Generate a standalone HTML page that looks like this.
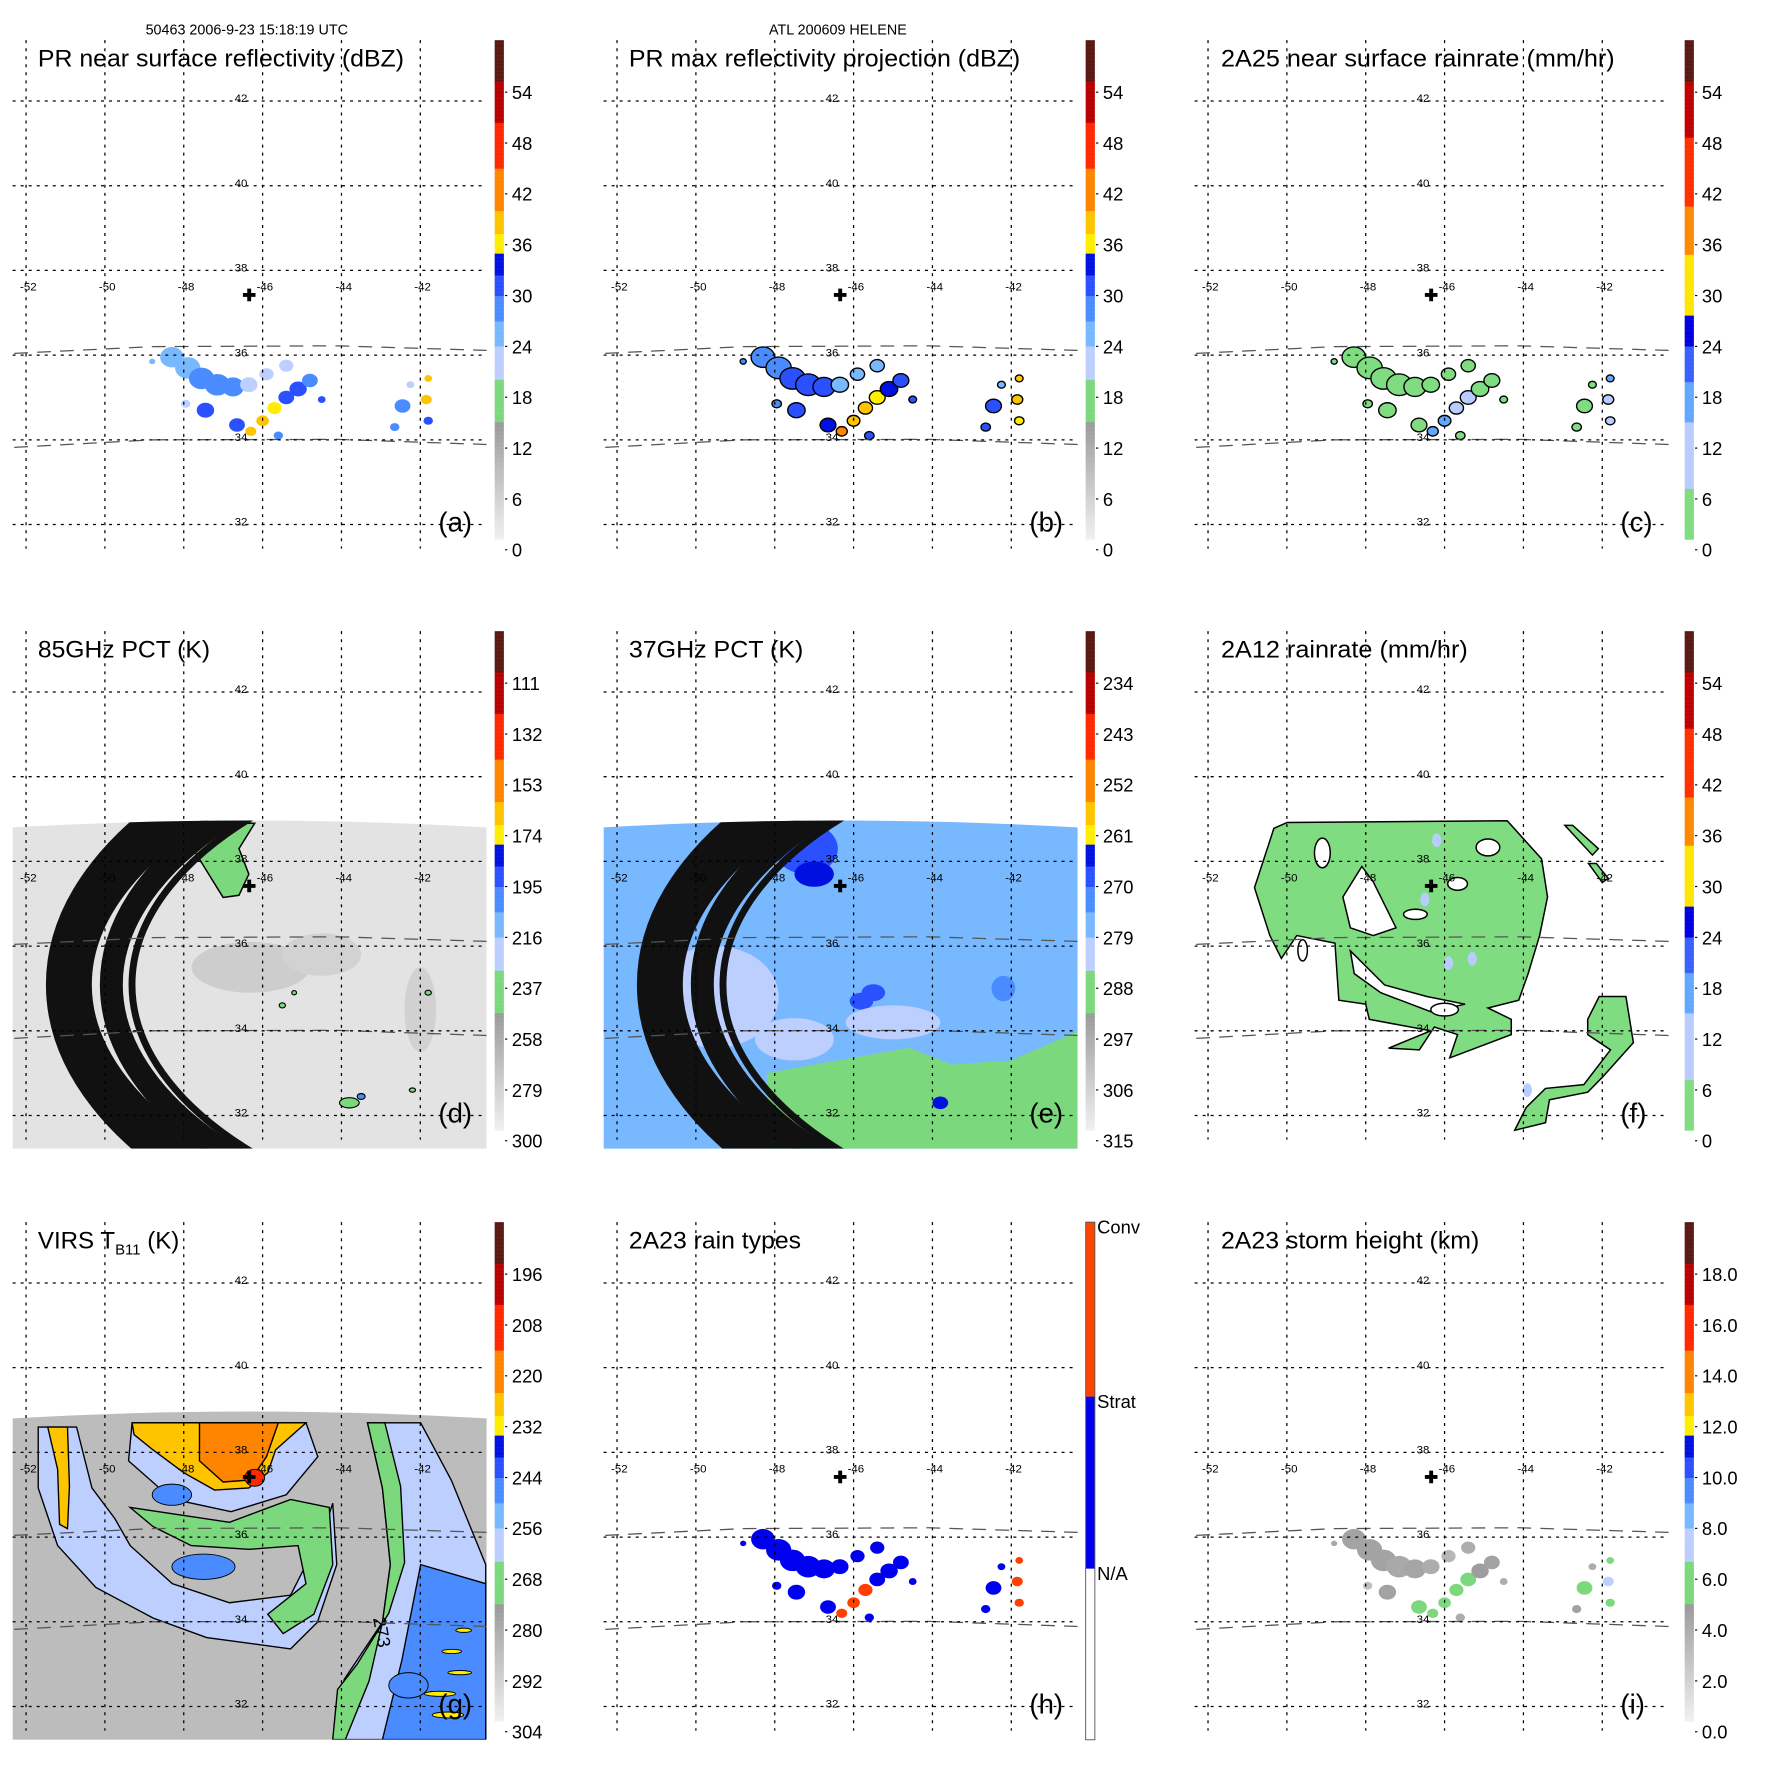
<!DOCTYPE html>
<html><head><meta charset="utf-8"><title>TRMM overpass HELENE</title>
<style>html,body{margin:0;padding:0;background:#fff}svg{display:block}text{font-family:"Liberation Sans",Arial,sans-serif}</style></head>
<body>
<svg id="fig" xmlns="http://www.w3.org/2000/svg" width="1771" height="1771" viewBox="0 0 1543 1543">
<rect x="0" y="0" width="1543" height="1543" fill="#fff"/>
<text x="215" y="30" font-size="12.5" text-anchor="middle">50463 2006-9-23 15:18:19 UTC</text>
<text x="730" y="30" font-size="12.5" text-anchor="middle">ATL 200609 HELENE</text>
</svg>
<script>
// ---------- data (lon/lat in degrees, field values in panel units) ----------
const lonTicks=[-52,-50,-48,-46,-44,-42];
const latTicks=[42,40,38,36,34,32];
const centerLon=-46.34, centerLat=37.42;
// PR cells
const prLon=[-48.3,-47.9,-47.55,-47.15,-46.75,-46.35,-45.9,-45.4,-48.8,-47.45,-47.95,-46.65,-46.3,-46.0,-45.7,-45.4,-45.1,-44.8,-45.6,-42.45,-42.65,-42.25,-41.8,-41.85,-41.8,-44.5];
const prLat=[35.95,35.7,35.45,35.3,35.25,35.3,35.55,35.75,35.85,34.7,34.85,34.35,34.2,34.45,34.75,35.0,35.2,35.4,34.1,34.8,34.3,35.3,35.45,34.95,34.45,34.95];
const prRad=[0.30,0.32,0.32,0.32,0.28,0.22,0.18,0.18,0.08,0.22,0.12,0.2,0.14,0.16,0.18,0.2,0.22,0.2,0.12,0.2,0.12,0.1,0.1,0.14,0.12,0.1];
const nearRefl=[24,26,27,27,28,22,22,20,26,30,22,30,40,38,37,32,30,28,28,27,28,22,38,38,32,30];
const maxRefl=[28,29,30,30,31,26,26,26,29,32,28,33,42,40,38,36,34,32,30,32,31,26,40,40,36,32];
const rain2A25=[3,4,4,4,5,2,2,2,3,6,3,6,18,15,12,8,6,5,4,5,5,2,15,14,8,5];
const rainType=[1,1,1,1,1,1,1,1,1,1,1,1,2,2,2,1,1,1,1,1,1,1,2,2,2,1];
const stormHeight=[4.5,4.5,4.5,4.2,4.4,4.0,3.5,4.0,4.2,4.5,3.0,6.0,6.5,6.2,6.0,5.5,4.8,4.5,4.0,6.0,4.5,4.0,6.5,7.5,6.0,4.0];
// PR swath edges
const swathTopLon=[-52.3,-48.8,-44.1,-40.3], swathTopLat=[36.04,36.2,36.22,36.11];
const swathBotLon=[-52.3,-48.8,-44.1,-40.3], swathBotLat=[33.82,34.0,34.01,33.89];
// 85GHz PCT
const pct85Background=288;
const pct85Lon=[-46.3,-44.5,-42.0,-45.5,-45.2,-43.8,-43.5,-42.2,-41.8];
const pct85Lat=[35.5,35.8,34.5,34.6,34.9,32.3,32.45,32.6,34.9];
const pct85Rx=[1.5,1.0,0.4,0.08,0.06,0.25,0.1,0.08,0.08];
const pct85Ry=[0.6,0.5,1.0,0.06,0.05,0.12,0.07,0.05,0.06];
const pct85Val=[276,279,278,240,240,232,205,240,240];
const pct85Tongue=[[-47.5,38.9],[-46.2,38.9],[-46.6,38.3],[-46.35,37.7],[-46.6,37.2],[-47.0,37.15],[-47.3,37.6],[-47.7,38.2]];
const pct85TongueVal=240;
// 37GHz PCT
const pct37Background=279;
const pct37Lon=[-49.5,-47.5,-44.5,-42.5,-46.5,-47.2,-47.0,-45.8,-45.5,-42.2,-43.8,-45.0];
const pct37Lat=[34.8,33.8,37.5,38.0,35.7,38.3,37.7,34.7,34.9,35.0,32.3,34.2];
const pct37Rx=[1.6,1.0,1.2,1.5,1.5,0.8,0.5,0.3,0.3,0.3,0.2,1.2];
const pct37Ry=[1.2,0.5,0.8,0.5,0.35,0.6,0.3,0.2,0.2,0.3,0.15,0.4];
const pct37Val=[284,284,275,275,275,267,266,268,270,273,266,284];
const pct37Green=[[-48.2,31.2],[-48.2,33.0],[-47,33.2],[-44.6,33.6],[-43.5,33.2],[-42,33.3],[-40.3,34.0],[-40.3,31.2]];
const pct37GreenVal=289;
// 2A12 rain
const rain2A12Main=[[-49.99,38.92],[-44.41,38.96],[-43.54,38.06],[-43.39,37.16],[-43.59,36.25],[-43.88,35.35],[-44.12,34.72],[-44.90,34.54],[-44.31,34.27],[-44.31,33.91],[-45.87,33.36],[-45.67,33.91],[-46.26,34.09],[-46.64,33.55],[-47.42,33.59],[-46.35,34.0],[-47.91,34.27],[-48.0,34.63],[-48.68,34.72],[-48.78,36.07],[-49.75,36.25],[-50.14,35.71],[-50.43,36.25],[-50.82,37.38],[-50.33,38.78]];
const rain2A12Hole1=[[-48.10,37.88],[-47.81,37.52],[-47.23,36.43],[-47.81,36.25],[-48.39,36.43],[-48.58,37.16]];
const rain2A12Hole2=[[-48.39,35.89],[-47.52,35.08],[-46.45,34.81],[-45.48,34.63],[-46.35,34.45],[-47.62,34.9],[-48.29,35.35]];
const rain2A12Strip=[[-42.08,34.81],[-41.40,34.81],[-41.21,33.72],[-41.99,32.91],[-42.37,32.55],[-43.34,32.37],[-43.44,31.83],[-44.22,31.65],[-43.93,32.19],[-43.44,32.64],[-42.47,32.73],[-41.79,33.55],[-42.37,33.91],[-42.37,34.27]];
const rain2A12NE=[[-42.95,38.85],[-42.75,38.85],[-42.1,38.3],[-42.25,38.15]];
const rain2A12NE2=[[-42.35,37.95],[-42.15,37.95],[-41.85,37.6],[-42.0,37.5]];
const rain2A12Val=3;
const holeLon=[-49.1,-44.9,-45.67,-46.74,-49.6,-46.0];
const holeLat=[38.2,38.33,37.47,36.75,35.9,34.5];
const holeRx=[0.2,0.3,0.25,0.3,0.12,0.35];
const holeRy=[0.35,0.2,0.15,0.12,0.25,0.15];
const rain2A12BlueLon=[-46.2,-46.5,-45.3,-43.9,-45.9];
const rain2A12BlueLat=[38.5,37.1,35.7,32.6,35.6];
const rain2A12BlueVal=[9,10,9,10,9];
// VIRS TB11
const virsBackground=285;
const virsPolys=[
 {v:258,p:[[-51.69,38.6],[-50.72,38.6],[-50.33,37.16],[-49.75,36.44],[-49.36,35.80],[-48.29,34.90],[-46.84,34.45],[-45.29,34.63],[-44.41,36.25],[-44.22,36.8],[-44.12,35.35],[-44.61,33.99],[-45.29,33.36],[-47.42,33.63],[-48.78,34.09],[-50.23,34.81],[-51.20,35.80],[-51.69,37.16]]},
 {v:266,p:[[-49.36,36.7],[-46.84,36.35],[-45.29,36.89],[-44.31,36.7],[-44.22,35.35],[-44.7,34.18],[-45.48,33.72],[-45.87,34.18],[-44.9,34.9],[-45.1,35.8],[-46.35,35.71],[-47.81,35.8],[-48.78,36.25]]},
 {v:258,p:[[-43.34,38.7],[-41.99,38.7],[-41.21,37.34],[-40.34,35.35],[-40.34,31.22],[-44.22,31.22],[-43.93,32.64],[-42.96,33.99],[-42.76,35.35],[-42.96,37.16]]},
 {v:265,p:[[-43.34,38.7],[-42.9,38.7],[-42.5,37.2],[-42.4,35.4],[-42.8,34.2],[-43.6,33.0],[-44.1,32.4],[-44.22,31.22],[-43.9,31.22],[-43.3,32.6],[-42.96,33.99],[-42.76,35.35],[-42.96,37.16]]},
 {v:245,p:[[-41.99,35.35],[-40.34,34.9],[-40.34,31.22],[-42.96,31.22],[-42.47,33.09]]},
 {v:262,p:[[-49.31,38.7],[-44.9,38.7],[-44.6,37.9],[-45.4,37.0],[-46.8,36.6],[-48.3,36.9],[-49.4,37.8]]},
 {v:226,p:[[-49.31,38.7],[-44.9,38.7],[-45.67,38.06],[-45.87,37.52],[-46.35,37.16],[-47.22,37.11],[-48.0,37.52],[-48.78,38.06],[-49.26,38.42]]},
 {v:219,p:[[-47.6,38.7],[-45.6,38.7],[-45.9,37.9],[-46.3,37.35],[-47.0,37.3],[-47.6,37.8]]},
 {v:226,p:[[-51.45,38.6],[-50.95,38.6],[-50.9,37.2],[-50.95,36.2],[-51.15,36.3],[-51.2,37.6]]}
];
const virsLon=[-47.5,-46.2,-48.3,-41.2,-41.0,-41.5,-41.3,-40.9,-42.3];
const virsLat=[35.3,37.4,37.0,33.3,32.8,32.3,31.8,33.8,32.5];
const virsRx=[0.8,0.25,0.5,0.25,0.3,0.4,0.4,0.2,0.5];
const virsRy=[0.3,0.2,0.25,0.05,0.05,0.06,0.07,0.05,0.3];
const virsVal=[248,208,246,230,230,230,230,230,246];

// ---------- geometry ----------
const NS='http://www.w3.org/2000/svg';
const svg=document.getElementById('fig');
const OFF=514.9;
const X0=22.7, DX=34.35, Y0=88, DY=36.9;
function xs(lon){return X0+(lon+52)*DX;}
function ys(lat){return Y0+(42-lat)*DY;}
function mk(tag,attrs,parent){const e=document.createElementNS(NS,tag);for(const k in attrs)e.setAttribute(k,attrs[k]);parent.appendChild(e);return e;}
function polyPts(p){return p.map(q=>xs(q[0]).toFixed(1)+','+ys(q[1]).toFixed(1)).join(' ');}

const SEG_A=[[0.333,'#7cd87c'],[0.4,'#bccfff'],[0.45,'#78b8ff'],[0.5,'#4a8cff'],[0.54,'#2a50ff'],[0.583,'#0010e0'],[0.62,'#ffee00'],[0.667,'#ffc400'],[0.75,'#ff8400'],[0.84,'#ff2800'],[0.92,'#b80000'],[1.01,'#5a1812']];
const SEG_B=[[0.12,'#80dc80'],[0.25,'#b8ccff'],[0.33,'#60a8ff'],[0.40,'#3860ff'],[0.46,'#0000e0'],[0.58,'#ffe600'],[0.675,'#ff8800'],[0.81,'#ff3000'],[0.92,'#c00000'],[1.01,'#5a1812']];
function colA(t){
  if(t<0.25){const g=Math.round(248-(248-154)*Math.max(0,t)/0.25);return 'rgb('+g+','+g+','+g+')';}
  for(const s of SEG_A) if(t<s[0]) return s[1];
  return '#5a1812';
}
function colB(t){for(const s of SEG_B) if(t<s[0]) return s[1];return '#5a1812';}

const panels=[
 {id:'a',c:0,r:0,title:'PR near surface reflectivity (dBZ)',tl:319,pal:'A',vb:0,vt:60,labels:['0','6','12','18','24','30','36','42','48','54']},
 {id:'b',c:1,r:0,title:'PR max reflectivity projection (dBZ)',tl:341,pal:'A',vb:0,vt:60,labels:['0','6','12','18','24','30','36','42','48','54']},
 {id:'c',c:2,r:0,title:'2A25 near surface rainrate (mm/hr)',tl:343,pal:'B',vb:0,vt:60,labels:['0','6','12','18','24','30','36','42','48','54']},
 {id:'d',c:0,r:1,title:'85GHz PCT (K)',tl:150,pal:'A',vb:300,vt:90,labels:['300','279','258','237','216','195','174','153','132','111']},
 {id:'e',c:1,r:1,title:'37GHz PCT (K)',tl:152,pal:'A',vb:315,vt:225,labels:['315','306','297','288','279','270','261','252','243','234']},
 {id:'f',c:2,r:1,title:'2A12 rainrate (mm/hr)',tl:215,pal:'B',vb:0,vt:60,labels:['0','6','12','18','24','30','36','42','48','54']},
 {id:'g',c:0,r:2,title:'VIRS',tl:0,pal:'A',vb:304,vt:184,labels:['304','292','280','268','256','244','232','220','208','196']},
 {id:'h',c:1,r:2,title:'2A23 rain types',tl:150,pal:'H',labels:[]},
 {id:'i',c:2,r:2,title:'2A23 storm height (km)',tl:225,pal:'A',vb:0,vt:20,labels:['0.0','2.0','4.0','6.0','8.0','10.0','12.0','14.0','16.0','18.0']}
];

const defs=mk('defs',{},svg);
const cp=mk('clipPath',{id:'mapclip'},defs);
mk('rect',{x:11,y:35,width:413,height:451},cp);
const cps=mk('clipPath',{id:'swathclip'},defs);
mk('path',{d:'M11,206 Q217,194 424,206 L424,486 L11,486 Z'},cps);

function tval(P,v){return (v-P.vb)/(P.vt-P.vb);}
function colorFor(P,v){return P.pal==='B'?colB(tval(P,v)):colA(tval(P,v));}

for(const P of panels){
  const g=mk('g',{transform:'translate('+(P.c*OFF).toFixed(1)+','+(P.r*OFF).toFixed(1)+')'},svg);
  
  
  const map=mk('g',{'clip-path':'url(#mapclip)'},g);
  
  

  if(P.id==='d'||P.id==='e'||P.id==='g'){
    const bgv=P.id==='d'?pct85Background:(P.id==='e'?pct37Background:virsBackground);
    const sw=mk('path',{d:'M11,206 Q217,194 424,206 L424,486 L11,486 Z',fill:colorFor(P,bgv)},map);
    
    
    const fg=mk('g',{'clip-path':'url(#swathclip)'},map);
    
    
    if(P.id==='d'){
      for(let i=0;i<pct85Lon.length;i++){
        const el=mk('ellipse',{cx:xs(pct85Lon[i]),cy:ys(pct85Lat[i]),rx:pct85Rx[i]*DX,ry:pct85Ry[i]*DY,fill:colorFor(P,pct85Val[i]),stroke:pct85Val[i]<250?'#000':'none','stroke-width':1},fg);
        
        
      }
      const tg=mk('polygon',{points:polyPts(pct85Tongue),fill:colorFor(P,pct85TongueVal),stroke:'#000','stroke-width':1.3},fg);
      
      
    } else if(P.id==='e'){
      for(let i=0;i<pct37Lon.length;i++){
        const el=mk('ellipse',{cx:xs(pct37Lon[i]),cy:ys(pct37Lat[i]),rx:pct37Rx[i]*DX,ry:pct37Ry[i]*DY,fill:colorFor(P,pct37Val[i])},fg);
        
        
      }
      const gr=mk('polygon',{points:polyPts(pct37Green),fill:colorFor(P,pct37GreenVal)},fg);
      
      
      const core=mk('ellipse',{cx:xs(pct37Lon[10]),cy:ys(pct37Lat[10]),rx:pct37Rx[10]*DX,ry:pct37Ry[10]*DY,fill:colorFor(P,pct37Val[10])},fg);
      
      
    } else {
      for(const poly of virsPolys){
        const el=mk('polygon',{points:polyPts(poly.p),fill:colorFor(P,poly.v),stroke:'#000','stroke-width':1.2},fg);
        
        
      }
      for(let i=0;i<virsLon.length;i++){
        const el=mk('ellipse',{cx:xs(virsLon[i]),cy:ys(virsLat[i]),rx:virsRx[i]*DX,ry:virsRy[i]*DY,fill:colorFor(P,virsVal[i]),stroke:'#000','stroke-width':0.8},fg);
        
        
      }
      const lb=mk('text',{x:325,y:380,'font-size':16,transform:'rotate(80 325 380)'},fg);
      lb.textContent='273';
      
      
    }
    if(P.id!=='g'){
      const arcs=[[507,256,40],[470,237,20],[452,228,6]];
      for(const a of arcs){
        const el=mk('ellipse',{cx:567,cy:343,rx:a[0],ry:a[1],fill:'none',stroke:'#111','stroke-width':a[2]},fg);
        
        
      }
    }
  }
  if(P.id==='f'){
    const main=mk('polygon',{points:polyPts(rain2A12Main),fill:colorFor(P,rain2A12Val),stroke:'#000','stroke-width':1.3},map);
    
    
    for(const sh of [rain2A12Strip,rain2A12NE,rain2A12NE2]){
      const el=mk('polygon',{points:polyPts(sh),fill:colorFor(P,rain2A12Val),stroke:'#000','stroke-width':1.3},map);
      
      
    }
    for(let i=0;i<rain2A12BlueLon.length;i++){
      const el=mk('ellipse',{cx:xs(rain2A12BlueLon[i]),cy:ys(rain2A12BlueLat[i]),rx:4,ry:6,fill:colorFor(P,rain2A12BlueVal[i])},map);
      
      
    }
    for(const h of [rain2A12Hole1,rain2A12Hole2]){
      const el=mk('polygon',{points:polyPts(h),fill:'#fff',stroke:'#000','stroke-width':1.3},map);
      
      
    }
    for(let i=0;i<holeLon.length;i++){
      const el=mk('ellipse',{cx:xs(holeLon[i]),cy:ys(holeLat[i]),rx:holeRx[i]*DX,ry:holeRy[i]*DY,fill:'#fff',stroke:'#000','stroke-width':1.3},map);
      
      
    }
  }
  if('abchi'.includes(P.id)){
    const vals={a:nearRefl,b:maxRefl,c:rain2A25,h:rainType,i:stormHeight}[P.id];
    for(let i=0;i<prLon.length;i++){
      let fill;
      if(P.id==='h') fill=vals[i]===2?'#ff4000':'#0000f0';
      else fill=colorFor(P,vals[i]);
      const outline=(P.id==='b'||P.id==='c');
      const el=mk('ellipse',{cx:xs(prLon[i]).toFixed(1),cy:ys(prLat[i]).toFixed(1),rx:(prRad[i]*DX).toFixed(1),ry:(prRad[i]*DY*0.8).toFixed(1),fill:fill,stroke:outline?'#000':'none','stroke-width':1.2},map);
      
      
    }
  }
  for(const pair of [[swathTopLon,swathTopLat],[swathBotLon,swathBotLat]]){
    const pts=pair[0].map((lo,k)=>xs(lo).toFixed(1)+','+ys(pair[1][k]).toFixed(1)).join(' ');
    const el=mk('polyline',{points:pts,fill:'none',stroke:'#555','stroke-width':1.1,'stroke-dasharray':'12,8'},map);
    
    
  }
  for(const lo of lonTicks){
    const el=mk('line',{x1:xs(lo),x2:xs(lo),y1:35,y2:478,stroke:'#000','stroke-width':1.1,'stroke-dasharray':'2.6,4.4'},g);
    
    
    const t=mk('text',{x:xs(lo)+2,y:253,'font-size':10,'text-anchor':'middle'},g);
    t.textContent=String(lo);
    
    
  }
  for(const la of latTicks){
    const el=mk('line',{x1:11,x2:424,y1:ys(la),y2:ys(la),stroke:'#000','stroke-width':1.1,'stroke-dasharray':'2.6,4.4'},g);
    
    
    const t=mk('text',{x:210,y:ys(la)+1,'font-size':10,'text-anchor':'middle'},g);
    t.textContent=String(la);
    
    
  }
  const cx=xs(centerLon), cy=ys(centerLat);
  const cr=mk('path',{d:'M'+(cx-5.5)+','+cy+' h11 M'+cx+','+(cy-5.5)+' v11',stroke:'#000','stroke-width':3.4},g);
  
  
  const tt=mk('text',{x:P.id==='g'?33:(P.c===2?34:33),y:58,'font-size':21},g);
  if(P.id==='g'){
    tt.appendChild(document.createTextNode('VIRS T'));
    const sb=mk('tspan',{'font-size':13,dy:5},tt);
    sb.textContent='B11';
    const rest=mk('tspan',{dy:-5},tt);
    rest.textContent=' (K)';
  } else {
    tt.textContent=P.title;
    tt.setAttribute('textLength',P.tl);
    tt.setAttribute('lengthAdjust','spacingAndGlyphs');
  }
  
  
  const lt=mk('text',{x:382,y:463,'font-size':24},g);
  lt.textContent='('+P.id+')';
  
  
  const cbx=431+(P.c===2?7:0);
  const cb=mk('g',{},g);
  
  
  if(P.pal==='H'){
    const segs=[[35,187,'#ff4400'],[187,337,'#0000f0'],[337,486,'#ffffff']];
    for(const s of segs){
      const el=mk('rect',{x:cbx,y:s[0],width:8,height:s[1]-s[0],fill:s[2]},cb);
      
      
    }
    const fr=mk('rect',{x:cbx,y:35,width:8,height:451,fill:'none',stroke:'#555','stroke-width':0.8},cb);
    
    
    const names=[['Conv',35],['Strat',187],['N/A',337]];
    for(const n of names){
      const t=mk('text',{x:cbx+10,y:n[1]+10,'font-size':16},cb);
      t.textContent=n[0];
      
      
    }
  } else {
    for(let y=35;y<470;y+=1){
      const t=(479-(y+0.5))/443;
      const el=mk('rect',{x:cbx,y:y,width:8,height:1.2,fill:P.pal==='B'?colB(t):colA(t)},cb);
      
      
    }
    P.labels.forEach((L,k)=>{
      const y=479-443*(k*0.1);
      const tk=mk('line',{x1:cbx+9,x2:cbx+11,y1:y,y2:y,stroke:'#000','stroke-width':1},cb);
      
      
      const t=mk('text',{x:cbx+15,y:y+6,'font-size':16},cb);
      t.textContent=L;
      
      
    });
  }
}
</script>
</body></html>
